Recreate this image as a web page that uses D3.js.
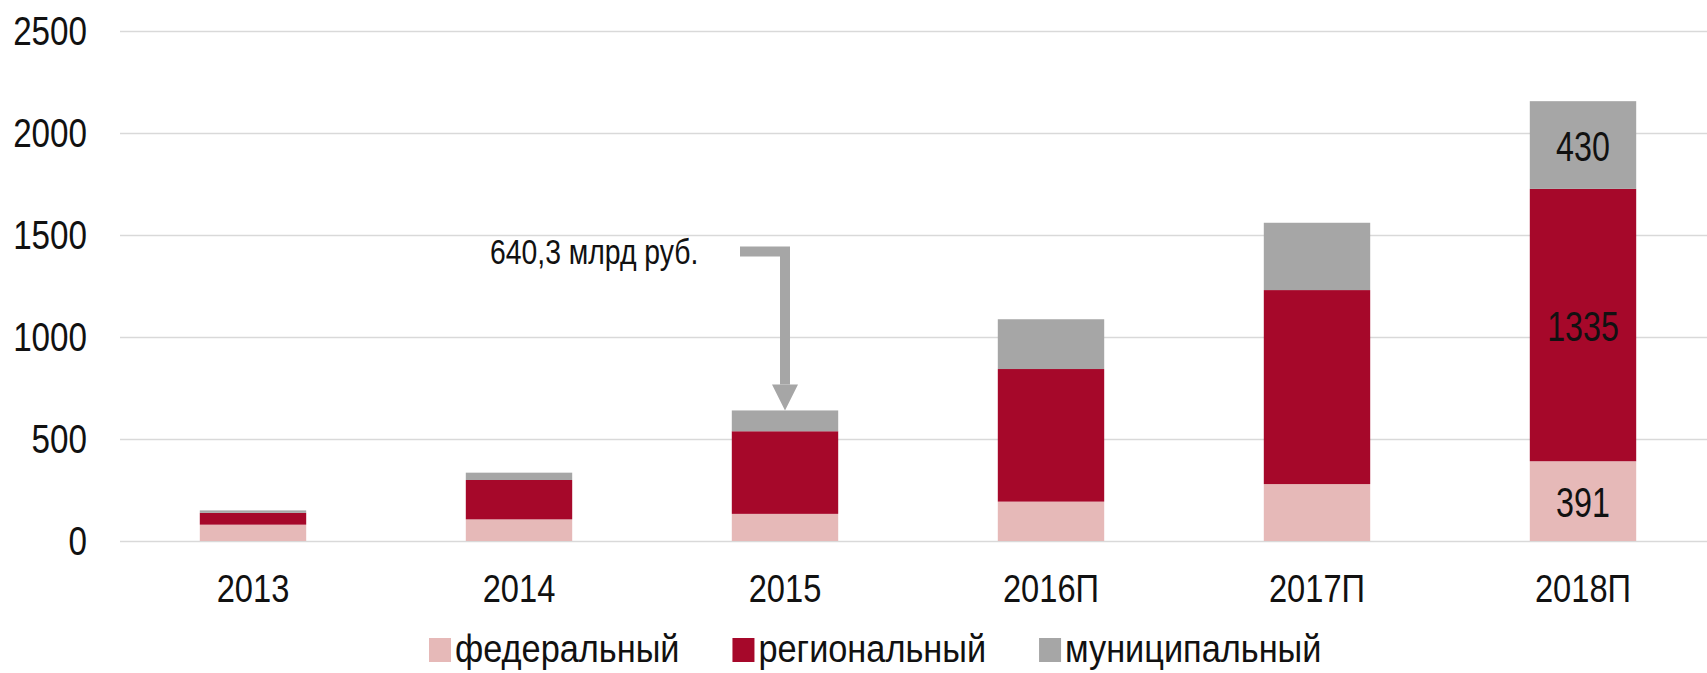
<!DOCTYPE html>
<html>
<head>
<meta charset="utf-8">
<script src="https://cdn.jsdelivr.net/npm/d3@7"></script>
<style>
  body { margin: 0; background: #fff; }
  text { font-family: "Liberation Sans", Arial, sans-serif; fill: #111; }
</style>
</head>
<body>
<svg id="chart" width="1707" height="673"></svg>
<script>
// ========= DATA =========== \\
const years = ['2013', '2014', '2015', '2016П', '2017П', '2018П']
const federal = [80, 106, 133, 193, 279, 391]
const regional = [58, 193, 405, 650, 951, 1335]
const municipal = [12, 36, 102, 244, 330, 430]
const seriesNames = ['федеральный', 'региональный', 'муниципальный']
const colors = ['#e6b9b8', '#a6082a', '#a6a6a6']
const yTicks = [0, 500, 1000, 1500, 2000, 2500]
const labelledYear = '2018П'
const calloutYear = '2015'
const calloutText = '640,3 млрд руб.'

const svg = d3.select('#chart')
const plotLeft = 120, plotRight = 1716, plotTop = 31, plotBottom = 541

const x = d3.scaleBand().domain(years).range([plotLeft, plotRight]).paddingInner(0.6).paddingOuter(0.3)
const y = d3.scaleLinear().domain([0, 2500]).range([plotBottom, plotTop])

// ============ GRID + Y AXIS ============== \\
const ySx = 0.81
const yAxis = svg.append('g')
    .attr('transform', `translate(${plotLeft},0)`)
    .call(d3.axisLeft(y).tickValues(yTicks).tickFormat(d3.format('d')).tickSize(-(plotRight - plotLeft)).tickPadding(33))
yAxis.select('.domain').remove()
yAxis.selectAll('.tick line').attr('stroke', '#d9d9d9').attr('stroke-width', 1.5)
yAxis.selectAll('.tick text')
    .attr('font-size', 41)
    .attr('font-family', '"Liberation Sans", Arial, sans-serif')
    .attr('fill', '#111')
    .attr('x', -33 / ySx)
    .attr('transform', `scale(${ySx},1)`)

// ============ STACKED BARS ============== \\
const rows = years.map((yr, i) => ({ year: yr, s0: federal[i], s1: regional[i], s2: municipal[i] }))
const stack = d3.stack().keys(['s0', 's1', 's2'])(rows)

const layers = svg.selectAll('g.layer')
    .data(stack)
    .join('g')
    .attr('class', 'layer')
    .attr('fill', (d, i) => colors[i])

layers.selectAll('rect')
    .data(d => d)
    .join('rect')
    .attr('x', d => x(d.data.year))
    .attr('width', x.bandwidth())
    .attr('y', d => y(d[1]))
    .attr('height', d => y(d[0]) - y(d[1]))

// values inside the last bar
const lblSx = 0.75
stack.forEach(layer => {
    const d = layer.find(p => p.data.year === labelledYear)
    const cx = x(labelledYear) + x.bandwidth() / 2
    const cy = (y(d[0]) + y(d[1])) / 2
    svg.append('text')
        .attr('transform', `translate(${cx},${cy}) scale(${lblSx},1)`)
        .attr('text-anchor', 'middle')
        .attr('dy', '0.36em')
        .attr('font-size', 43)
        .text(d[1] - d[0])
})

// ============ X AXIS ============== \\
const xSx = 0.86
const xAxis = svg.append('g')
    .attr('transform', `translate(0,${plotBottom})`)
    .call(d3.axisBottom(x).tickSize(0).tickPadding(34))
xAxis.select('.domain').remove()
xAxis.selectAll('.tick text')
    .attr('font-size', 38)
    .attr('font-family', '"Liberation Sans", Arial, sans-serif')
    .attr('fill', '#111')
    .attr('transform', `scale(${xSx},1)`)

// ============ CALLOUT ARROW ============== \\
const ci = years.indexOf(calloutYear)
const tipX = x(calloutYear) + x.bandwidth() / 2
const tipY = y(federal[ci] + regional[ci] + municipal[ci])
const cornerY = tipY - 159
svg.append('path')
    .attr('d', `M${tipX - 45},${cornerY} H${tipX} V${tipY - 26}`)
    .attr('fill', 'none')
    .attr('stroke', '#a6a6a6')
    .attr('stroke-width', 10)
svg.append('path')
    .attr('d', `M${tipX - 13},${tipY - 26} L${tipX + 13},${tipY - 26} L${tipX},${tipY} Z`)
    .attr('fill', '#a6a6a6')
svg.append('text')
    .attr('transform', `translate(${tipX - 295},${cornerY + 13}) scale(0.81,1)`)
    .attr('font-size', 35)
    .text(calloutText)

// ============ LEGEND ============== \\
const legSx = 0.88
let lx = 429
const legY = 662
seriesNames.forEach((name, i) => {
    svg.append('rect')
        .attr('x', lx).attr('y', legY - 24)
        .attr('width', 22).attr('height', 24)
        .attr('fill', colors[i])
    const t = svg.append('text')
        .attr('transform', `translate(${lx + 26},${legY}) scale(${legSx},1)`)
        .attr('font-size', 39)
        .text(name)
    lx += 26 + t.node().getComputedTextLength() * legSx + 53
})
</script>
</body>
</html>
